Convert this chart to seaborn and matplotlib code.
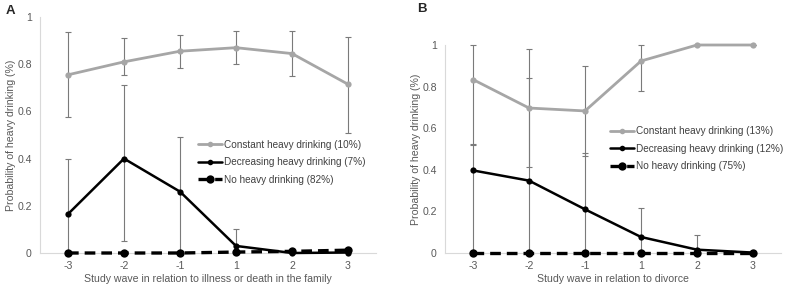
import matplotlib
matplotlib.use("Agg")
import matplotlib.pyplot as plt
import seaborn as sns
import numpy as np
import pandas as pd
from matplotlib.lines import Line2D

waves = ["-3", "-2", "-1", "1", "2", "3"]

# Panel A: illness or death in the family
a_const = [0.755, 0.81, 0.855, 0.87, 0.845, 0.715]
a_const_lo = [0.575, 0.755, 0.785, 0.80, 0.75, 0.51]
a_const_hi = [0.935, 0.91, 0.925, 0.94, 0.94, 0.915]
a_decr = [0.165, 0.40, 0.26, 0.03, 0.0, 0.002]
a_decr_lo = [0.0, 0.05, 0.01, 0.0, 0.0, 0.0]
a_decr_hi = [0.40, 0.71, 0.49, 0.10, 0.005, 0.01]
a_none = [0.0, 0.0, 0.0, 0.004, 0.007, 0.012]
a_labels = ["Constant heavy drinking (10%)", "Decreasing heavy drinking (7%)", "No heavy drinking (82%)"]

# Panel B: divorce
b_const = [0.834, 0.697, 0.683, 0.923, 1.0, 1.0]
b_const_lo = [0.523, 0.414, 0.467, 0.78, 1.0, 1.0]
b_const_hi = [1.0, 0.979, 0.90, 1.0, 1.0, 1.0]
b_decr = [0.397, 0.348, 0.21, 0.077, 0.016, 0.002]
b_decr_lo = [0.0, 0.0, 0.0, 0.0, 0.0, 0.0]
b_decr_hi = [0.52, 0.843, 0.481, 0.215, 0.085, 0.006]
b_none = [0.0, 0.0, 0.0, 0.0, 0.0, 0.0]
b_labels = ["Constant heavy drinking (13%)", "Decreasing heavy drinking (12%)", "No heavy drinking (75%)"]

sns.set_theme(style="white")
plt.rcParams["font.family"] = ["Liberation Sans", "DejaVu Sans"]

fig = plt.figure(figsize=(7.87, 2.92), dpi=100)
W, H = 787, 292
axA = fig.add_axes([40 / W, 1 - 253 / H, 336 / W, 236 / H])
axB = fig.add_axes([445 / W, 1 - 253 / H, 336 / W, 208 / H])

GRAY = "#a6a6a6"
ERR = "#7a7a7a"
TXT = "#595959"
FS = 7.6
LFS = 7.2


def panel(ax, const, clo, chi, decr, dlo, dhi, none, labels, xlabel, legend_anchor):
    pos = np.arange(len(waves))
    # error bars
    for m, lo, hi in [(const, clo, chi), (decr, dlo, dhi)]:
        eb = ax.errorbar(pos, m, yerr=[np.array(m) - np.array(lo), np.array(hi) - np.array(m)],
                         fmt="none", ecolor=ERR, elinewidth=0.8, capsize=2.2, capthick=0.8, zorder=1)
        for art in eb.lines[1] + eb.lines[2]:
            art.set_clip_on(False)
    df = pd.DataFrame({"x": pos, "const": const, "decr": decr, "none": none})
    sns.lineplot(data=df, x="x", y="const", ax=ax, color=GRAY, lw=2.0, marker="o",
                 markersize=4.5, markeredgewidth=0, zorder=3, clip_on=False)
    sns.lineplot(data=df, x="x", y="decr", ax=ax, color="black", lw=1.8, marker="o",
                 markersize=4.5, markeredgewidth=0, zorder=4, clip_on=False)
    sns.lineplot(data=df, x="x", y="none", ax=ax, color="black", lw=2.4, marker="o",
                 markersize=6, markeredgewidth=0, zorder=5, linestyle=(0, (3.2, 1.8)),
                 clip_on=False)
    ax.set_xlim(-0.5, len(waves) - 0.5)
    ax.set_ylim(0, 1)
    ax.set_xticks(pos)
    ax.set_xticklabels(waves)
    ax.set_yticks([0, 0.2, 0.4, 0.6, 0.8, 1])
    ax.set_yticklabels(["0", "0.2", "0.4", "0.6", "0.8", "1"])
    ax.tick_params(axis="both", length=0, labelsize=FS, labelcolor=TXT, pad=6)
    ax.set_xlabel(xlabel, fontsize=FS, color=TXT, labelpad=2)
    ax.set_ylabel("Probability of heavy drinking (%)", fontsize=FS, color=TXT, labelpad=1)
    for s in ["top", "right"]:
        ax.spines[s].set_visible(False)
    for s in ["left", "bottom"]:
        ax.spines[s].set_color("#d9d9d9")
        ax.spines[s].set_linewidth(0.8)
    handles = [
        Line2D([], [], color=GRAY, lw=2.0, marker="o", markersize=4, markeredgewidth=0),
        Line2D([], [], color="black", lw=1.8, marker="o", markersize=4, markeredgewidth=0),
        Line2D([], [], color="black", lw=2.4, marker="o", markersize=6, markeredgewidth=0,
               linestyle=(0, (3.2, 1.8))),
    ]
    leg = ax.legend(handles, labels, loc="upper left", bbox_to_anchor=legend_anchor,
                    frameon=False, fontsize=LFS, handlelength=2.4, handletextpad=0.2,
                    labelspacing=0.75, borderaxespad=0, borderpad=0)
    for t in leg.get_texts():
        t.set_color("#404040")


panel(axA, a_const, a_const_lo, a_const_hi, a_decr, a_decr_lo, a_decr_hi, a_none, a_labels,
      "Study wave in relation to illness or death in the family", (0.47, 0.48))
panel(axB, b_const, b_const_lo, b_const_hi, b_decr, b_decr_lo, b_decr_hi, b_none, b_labels,
      "Study wave in relation to divorce", (0.49, 0.61))

fig.text(6 / W, 1 - 11 / H, "A", fontsize=9.5, fontweight="bold", va="center", ha="left")
fig.text(417 / W, 1 - 9 / H, "B", fontsize=9.5, fontweight="bold", va="center", ha="left")

fig.savefig("out.png", dpi=100)
